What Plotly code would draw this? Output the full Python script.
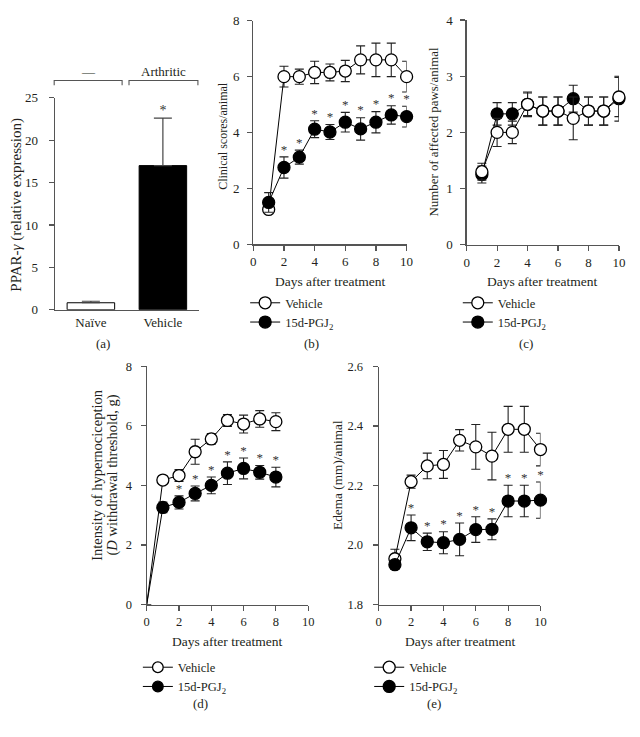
import plotly.graph_objects as go

W, H = 640, 737

# ---------------- data ----------------
a_groups = ["Naïve", "Vehicle"]
a_values = [0.82, 17.0]
a_err = [0.18, 5.6]

days10 = [1, 2, 3, 4, 5, 6, 7, 8, 9, 10]
days_d = [0, 1, 2, 3, 4, 5, 6, 7, 8]

b_vehicle = [1.25, 6.0, 6.0, 6.15, 6.15, 6.2, 6.6, 6.6, 6.6, 6.0]
b_vehicle_err = [0.12, 0.37, 0.27, 0.4, 0.3, 0.38, 0.5, 0.6, 0.6, 0.55]
b_pgj = [1.5, 2.75, 3.12, 4.12, 4.02, 4.37, 4.13, 4.37, 4.63, 4.57]
b_pgj_err = [0.35, 0.38, 0.25, 0.3, 0.27, 0.35, 0.4, 0.38, 0.33, 0.37]
b_sig = [0, 1, 1, 1, 1, 1, 1, 1, 1, 1]

c_vehicle = [1.3, 2.0, 2.0, 2.5, 2.38, 2.38, 2.25, 2.38, 2.38, 2.63]
c_vehicle_err = [0.15, 0.25, 0.2, 0.2, 0.25, 0.25, 0.38, 0.25, 0.25, 0.35]
c_pgj = [1.25, 2.33, 2.33, 2.5, 2.38, 2.38, 2.6, 2.38, 2.38, 2.6]
c_pgj_err = [0.15, 0.2, 0.2, 0.22, 0.25, 0.25, 0.24, 0.25, 0.25, 0.4]

d_vehicle = [0, 4.18, 4.33, 5.13, 5.56, 6.18, 6.06, 6.23, 6.14]
d_vehicle_err = [0, 0.1, 0.2, 0.42, 0.18, 0.2, 0.3, 0.28, 0.3]
d_pgj = [0, 3.26, 3.43, 3.73, 4.0, 4.41, 4.57, 4.44, 4.28]
d_pgj_err = [0, 0.18, 0.22, 0.25, 0.28, 0.38, 0.35, 0.23, 0.33]
d_sig = [0, 0, 1, 1, 1, 1, 1, 1, 1]

e_vehicle = [1.954, 2.213, 2.266, 2.271, 2.352, 2.33, 2.299, 2.389, 2.389, 2.321]
e_vehicle_err = [0.032, 0.022, 0.043, 0.047, 0.036, 0.075, 0.08, 0.077, 0.077, 0.055]
e_pgj = [1.934, 2.058, 2.011, 2.008, 2.019, 2.052, 2.053, 2.148, 2.148, 2.151]
e_pgj_err = [0.015, 0.043, 0.029, 0.037, 0.055, 0.043, 0.035, 0.053, 0.053, 0.061]
e_sig = [0, 1, 1, 1, 1, 1, 1, 1, 1, 1]

VEH = "Vehicle"
PGJ = "15d-PGJ<sub>2</sub>"

# ---------------- style ----------------
FONT = "Liberation Serif"
TXT = "#231f20"
AX = "#555555"
ERR = "#222222"
MS = 12


def px(x):
    return x / W


def py(y):
    return 1 - y / H


fig = go.Figure()

# ---------- (a) bars ----------
fig.add_trace(go.Bar(
    x=a_groups, y=a_values,
    marker=dict(color=["white", "black"], line=dict(color="black", width=1)),
    error_y=dict(type="data", array=a_err, arrayminus=[0, 0], symmetric=False,
                 color="#444444", thickness=1.2, width=9),
    xaxis="x", yaxis="y", showlegend=False, width=0.66,
))
a_star_y = [v + e for v, e in zip(a_values, a_err)]
fig.add_trace(go.Scatter(
    x=[a_groups[1]], y=[a_star_y[1]], mode="text", text=["*"],
    textposition="top center", textfont=dict(family=FONT, size=14, color="#333"),
    xaxis="x", yaxis="y", showlegend=False, cliponaxis=False,
))


def series(x, y, err, filled, ax, legend, sizes=None):
    return go.Scatter(
        x=x, y=y, mode="lines+markers",
        name=PGJ if filled else VEH,
        line=dict(color="black", width=1),
        marker=dict(symbol="circle", size=sizes if sizes else MS, opacity=1,
                    color="black" if filled else "white",
                    line=dict(color="black", width=1.3)),
        error_y=dict(type="data", array=err, color=ERR, thickness=1.1, width=4.5),
        xaxis="x" + ax, yaxis="y" + ax, legend=legend, showlegend=True,
        legendrank=2 if filled else 1, cliponaxis=False,
    )


def stars(x, y, err, sig, ax):
    xs = [xi for xi, s in zip(x, sig) if s]
    ys = [yi + ei for yi, ei, s in zip(y, err, sig) if s]
    return go.Scatter(
        x=xs, y=ys, mode="text", text=["*"] * len(xs), textposition="top center",
        textfont=dict(family=FONT, size=13, color="#333"),
        xaxis="x" + ax, yaxis="y" + ax, showlegend=False, cliponaxis=False,
    )


# (b) vehicle below, treated on top
fig.add_trace(series(days10, b_vehicle, b_vehicle_err, False, "2", "legend2"))
fig.add_trace(series(days10, b_pgj, b_pgj_err, True, "2", "legend2"))
fig.add_trace(stars(days10, b_pgj, b_pgj_err, b_sig, "2"))

# (c) treated below, vehicle on top
fig.add_trace(series(days10, c_pgj, c_pgj_err, True, "3", "legend3"))
fig.add_trace(series(days10, c_vehicle, c_vehicle_err, False, "3", "legend3"))

# (d)
dsz = [0] + [MS] * (len(days_d) - 1)
fig.add_trace(series(days_d, d_vehicle, d_vehicle_err, False, "4", "legend4", dsz))
fig.add_trace(series(days_d, d_pgj, d_pgj_err, True, "4", "legend4", dsz))
fig.add_trace(stars(days_d, d_pgj, d_pgj_err, d_sig, "4"))

# (e)
fig.add_trace(series(days10, e_vehicle, e_vehicle_err, False, "5", "legend5"))
fig.add_trace(series(days10, e_pgj, e_pgj_err, True, "5", "legend5"))
fig.add_trace(stars(days10, e_pgj, e_pgj_err, e_sig, "5"))

axis_common = dict(
    showline=True, linecolor=AX, linewidth=1.2, ticks="outside", ticklen=5,
    tickcolor=AX, tickwidth=1.2, showgrid=False, zeroline=False,
    tickfont=dict(family=FONT, size=13, color=TXT), fixedrange=True,
)


def xa(dom, anchor, **kw):
    d = dict(axis_common)
    d.update(domain=[px(dom[0]), px(dom[1])], anchor=anchor)
    d.update(kw)
    return d


def ya(dom, anchor, **kw):
    d = dict(axis_common)
    d.update(domain=[py(dom[0]), py(dom[1])], anchor=anchor)
    d.update(kw)
    return d


days_axis = dict(range=[0, 10], tickmode="array", tickvals=[0, 2, 4, 6, 8, 10])
small = dict(family=FONT, size=12.5, color=TXT)

layout = dict(
    width=W, height=H, margin=dict(l=0, r=0, t=0, b=0),
    paper_bgcolor="white", plot_bgcolor="rgba(0,0,0,0)",
    font=dict(family=FONT, size=13, color=TXT),
    bargap=0.34,
    xaxis=xa((52.7, 199), "y", type="category", ticks="", range=[-0.5, 1.5]),
    yaxis=ya((309, 92.7), "x", range=[0, 25], tickvals=[0, 5, 10, 15, 20, 25],
             ticklabelstandoff=8),
    xaxis2=xa((254.3, 410), "y2", **days_axis),
    yaxis2=ya((242.3, 14), "x2", range=[0, 8], tickvals=[0, 2, 4, 6, 8],
              ticklabelstandoff=5),
    xaxis3=xa((471, 625.7), "y3", **days_axis),
    yaxis3=ya((242.7, 13.3), "x3", range=[0, 4], tickvals=[0, 1, 2, 3, 4],
              ticklabelstandoff=5),
    xaxis4=xa((146, 310), "y4", tickfont=small, **days_axis),
    yaxis4=ya((610, 366.7), "x4", range=[0, 8], tickvals=[0, 2, 4, 6, 8],
              tickfont=small, ticklabelstandoff=6),
    xaxis5=xa((381.7, 546), "y5", tickfont=small, **days_axis),
    yaxis5=ya((610, 367), "x5", range=[1.8, 2.6], tickfont=small,
              tickvals=[1.8, 2.0, 2.2, 2.4, 2.6], tickformat=".1f",
              ticklabelstandoff=7),
)

leg_common = dict(
    bgcolor="rgba(0,0,0,0)", itemwidth=30,
    font=dict(family=FONT, size=12.5, color=TXT), xanchor="left", yanchor="top",
    traceorder="normal", tracegroupgap=0,
)
for name, lx, ly in [("legend2", 246, 287), ("legend3", 462, 287),
                     ("legend4", 137, 659), ("legend5", 372, 659)]:
    d = dict(leg_common)
    d.update(x=px(lx), y=py(ly))
    layout[name] = d

fig.update_layout(**layout)


def ann(text, x, y, angle=0, size=13):
    fig.add_annotation(
        text=text, x=px(x), y=py(y), xref="paper", yref="paper",
        showarrow=False, textangle=angle, xanchor="center", yanchor="middle",
        font=dict(family=FONT, size=size, color=TXT),
    )


# axis titles
ann("PPAR-<i>γ</i> (relative expression)", 14, 202, -90, 15)
ann("Clinical scores/animal", 224, 132, -90, 12)
ann("Number of affected paws/animal", 438, 128, -90, 12.9)
ann("Intensity of hypernociception", 96, 478, -90, 14.5)
ann("(<i>D</i> withdrawal threshold, g)", 111, 478, -90, 14.5)
ann("Edema (mm)/animal", 340, 478, -90, 13.3)
for cx, cy in [(332, 280), (548, 280), (228, 648), (464, 648)]:
    ann("Days after treatment", cx, cy, 0, 13.5)

# panel labels
for t, cx, cy in [("(a)", 102, 343), ("(b)", 313, 343), ("(c)", 531, 343),
                  ("(d)", 201, 711), ("(e)", 438, 711)]:
    ann(t, cx, cy)

# group brackets over panel (a)
ann("—", 87, 66)
ann("Arthritic", 163, 66)
for x0, x1 in [(52, 121), (128, 198)]:
    fig.add_shape(type="path",
                  path=f"M {px(x0)} {py(80)} L {px(x0)} {py(75)} L {px(x1)} {py(75)} L {px(x1)} {py(80)}",
                  xref="paper", yref="paper", line=dict(color=AX, width=1.1))

fig.write_html("out.html", config={"displayModeBar": False, "staticPlot": True},
               post_script="document.body.style.margin='0';document.body.style.overflow='hidden';")
